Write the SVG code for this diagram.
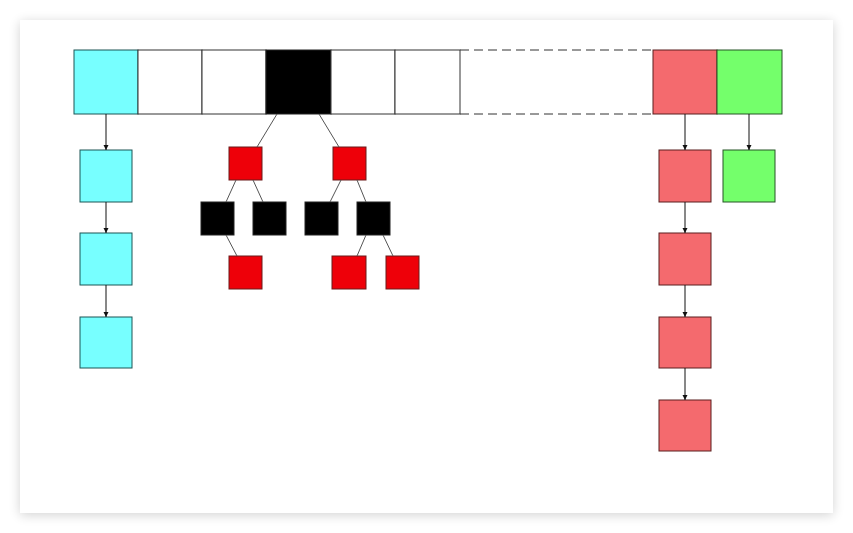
<svg xmlns="http://www.w3.org/2000/svg" width="853" height="533" viewBox="0 0 853 533">
<defs>
<filter id="sh" x="-10%" y="-10%" width="120%" height="120%">
<feGaussianBlur in="SourceAlpha" stdDeviation="6"/>
<feOffset dx="0" dy="2"/>
<feComponentTransfer><feFuncA type="linear" slope="0.18"/></feComponentTransfer>
<feMerge><feMergeNode/><feMergeNode in="SourceGraphic"/></feMerge>
</filter>
<marker id="arr" viewBox="0 0 10 10" refX="10" refY="5" markerWidth="5" markerHeight="6" orient="auto" markerUnits="userSpaceOnUse">
<path d="M0,0 L10,5 L0,10 z" fill="#111"/>
</marker>
</defs>
<style>
.cell{fill:#fff;stroke:#333;stroke-width:1}
.cy{fill:#77ffff;stroke:#1d5555;stroke-width:1}
.rd{fill:#f46a6e;stroke:#5a1f1f;stroke-width:1}
.gr{fill:#74ff6b;stroke:#265526;stroke-width:1}
.bk{fill:#000;stroke:#222;stroke-width:1}
.tr{fill:#ee0009;stroke:#6b1a1a;stroke-width:1}
.ar{stroke:#111;stroke-width:1;fill:none;marker-end:url(#arr)}
.tl{stroke:#555;stroke-width:1;fill:none}
.ds{stroke:#333;stroke-width:1;stroke-dasharray:9,5;fill:none}
</style>
<rect x="0" y="0" width="853" height="533" fill="#fff"/>
<rect x="20" y="20" width="813" height="493" fill="#fff" filter="url(#sh)"/>
<g id="array">
<rect id="cell0" class="cy" x="74" y="50" width="64" height="64"/>
<rect id="cell1" class="cell" x="138" y="50" width="64" height="64"/>
<rect id="cell2" class="cell" x="202" y="50" width="64" height="64"/>
<rect id="cell3" class="bk" x="266" y="50" width="65" height="64"/>
<rect id="cell4" class="cell" x="331" y="50" width="64" height="64"/>
<rect id="cell5" class="cell" x="395" y="50" width="65" height="64"/>
<rect id="cell6" class="rd" x="653" y="50" width="64" height="64"/>
<rect id="cell7" class="gr" x="717" y="50" width="65" height="64"/>
</g>
<g id="cyan1"><rect class="cy" x="80" y="150" width="52" height="52"/></g>
<g id="cyan2"><rect class="cy" x="80" y="233" width="52" height="52"/></g>
<g id="cyan3"><rect class="cy" x="80" y="317" width="52" height="51"/></g>
<g id="red1"><rect class="rd" x="659" y="150" width="52" height="52"/></g>
<g id="red2"><rect class="rd" x="659" y="233" width="52" height="52"/></g>
<g id="red3"><rect class="rd" x="659" y="317" width="52" height="51"/></g>
<g id="red4"><rect class="rd" x="659" y="400" width="52" height="51"/></g>
<g id="green1"><rect class="gr" x="723" y="150" width="52" height="52"/></g>
<g id="t1"><rect class="tr" x="229" y="147" width="33" height="33"/></g>
<g id="t2"><rect class="tr" x="333" y="147" width="33" height="33"/></g>
<g id="t3"><rect class="bk" x="201" y="202" width="33" height="33"/></g>
<g id="t4"><rect class="bk" x="253" y="202" width="33" height="33"/></g>
<g id="t5"><rect class="bk" x="305" y="202" width="33" height="33"/></g>
<g id="t6"><rect class="bk" x="357" y="202" width="33" height="33"/></g>
<g id="t7"><rect class="tr" x="229" y="256" width="33" height="33"/></g>
<g id="t8"><rect class="tr" x="332" y="256" width="34" height="33"/></g>
<g id="t9"><rect class="tr" x="386" y="256" width="33" height="33"/></g>
<g id="connectors">
<path class="ds" d="M460,50 H653 M460,114 H653"/>
<path class="ar" d="M106,114 V150"/>
<path class="ar" d="M106,202 V233"/>
<path class="ar" d="M106,285 V317"/>
<path class="ar" d="M685,114 V150"/>
<path class="ar" d="M685,202 V233"/>
<path class="ar" d="M685,285 V317"/>
<path class="ar" d="M685,368 V400"/>
<path class="ar" d="M749,114 V150"/>
<path class="tl" d="M277,114 L257,147"/>
<path class="tl" d="M319,114 L339,147"/>
<path class="tl" d="M236,180 L226,202"/>
<path class="tl" d="M253,180 L263,202"/>
<path class="tl" d="M226,235 L237,256"/>
<path class="tl" d="M341,180 L330,202"/>
<path class="tl" d="M357,180 L366,202"/>
<path class="tl" d="M366,235 L357,256"/>
<path class="tl" d="M383,235 L393,256"/>
</g>
</svg>
